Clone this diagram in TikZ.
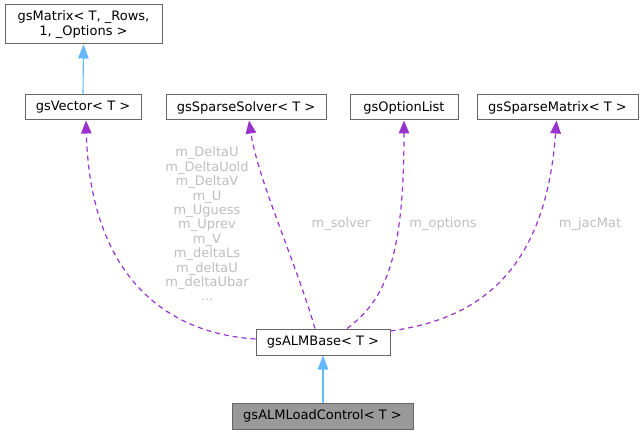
\documentclass[tikz,border=0pt]{standalone}
\usepackage{fontspec}
\setmainfont{DejaVu Sans}
\usepackage{xcolor}
\usetikzlibrary{arrows.meta,calc,positioning}
\definecolor{dxBorder}{HTML}{666666}
\definecolor{dxGrey}{HTML}{999999}
\definecolor{dxBlue}{HTML}{63B8FF}
\definecolor{dxPurple}{HTML}{9A32CD}
\definecolor{dxLabel}{HTML}{BEBEBE}

\begin{document}
\begin{tikzpicture}[x=1pt,y=-1pt,font=\fontsize{13}{14.4}\selectfont]
  \tikzset{
    cls/.style={draw=dxBorder,line width=1pt,fill=white,minimum height=25pt,inner sep=2pt,align=center},
    inherit/.style={draw=dxBlue,line width=1.1pt,-{Triangle[length=14pt,width=10.5pt]}},
    member/.style={draw=dxPurple,line width=1.2pt,dash pattern=on 5pt off 4pt,-{Triangle[length=13pt,width=10.5pt]}},
    note/.style={text=dxLabel,inner sep=0pt,align=center}
  }
  \useasboundingbox (0,0) rectangle (644,435);
  \node[cls,minimum width=157pt,minimum height=39pt] (matrix) at (83.5,24.5) {gsMatrix< T, \_Rows,\\1, \_Options >};
  \node[cls,minimum width=116pt] (vector) at (83,107.5) {gsVector< T >};
  \node[cls,minimum width=160pt] (solver) at (246,107.5) {gsSparseSolver< T >};
  \node[cls,minimum width=108pt] (options) at (404,107.5) {gsOptionList};
  \node[cls,minimum width=161pt] (spmat) at (557.5,107.5) {gsSparseMatrix< T >};
  \node[cls,minimum width=134pt,minimum height=26pt] (base) at (323,342) {gsALMBase< T >};
  \node[cls,fill=dxGrey,minimum width=181pt,minimum height=26pt] (load) at (322.5,416) {gsALMLoadControl< T >};
  % inheritance
  \draw[inherit] (vector.north) -- (matrix.south);
  \draw[inherit] (load.north -| base.south) -- (base.south);
  % members
  \draw[member] ([yshift=3pt]base.west) .. controls (160,333) and (90,270) .. ([xshift=3pt]vector.south);
  \draw[member] ([xshift=-8pt]base.north) .. controls (295,260) and (258,180) .. ([xshift=3pt]solver.south);
  \draw[member] ([xshift=24pt]base.north) .. controls (385,300) and (404,260) .. (options.south);
  \draw[member] ([yshift=11pt]base.east) .. controls (470,320) and (545,280) .. ([xshift=-1pt]spmat.south);
  \node[note] (vecLabel) at (207,224) {m\_DeltaU\\m\_DeltaUold\\m\_DeltaV\\m\_U\\m\_Uguess\\m\_Uprev\\m\_V\\m\_deltaLs\\m\_deltaU\\m\_deltaUbar\\...};
  \node[note] (solverLabel) at (341,224) {m\_solver};
  \node[note] (optionsLabel) at (443,224) {m\_options};
  \node[note] (spmatLabel) at (590,224) {m\_jacMat};
\end{tikzpicture}
\end{document}
